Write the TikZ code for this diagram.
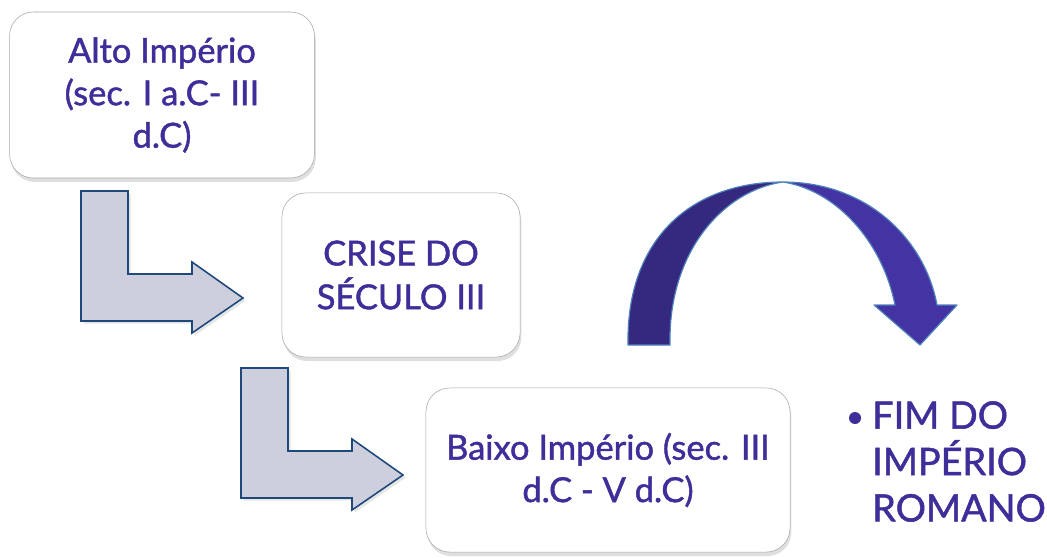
\documentclass[tikz,border=0pt]{standalone}
\usepackage{fontspec}
\setmainfont{Lato}[UprightFeatures = {FakeBold = 1.3}]
\usetikzlibrary{positioning, calc, shadows}
\definecolor{txtpurple}{RGB}{62,46,154}
\definecolor{arcdark}{RGB}{53,40,127}
\definecolor{arclight}{RGB}{68,51,162}
\definecolor{arcline}{RGB}{79,129,189}
\definecolor{bentfill}{RGB}{205,208,220}
\definecolor{bentline}{RGB}{31,73,125}
\tikzset{
stage/.style = {rectangle, rounded corners = 18pt, draw = gray!70, thin, fill = white,
	align = center, text = txtpurple, inner sep = 0pt,
	drop shadow = {opacity = 0.25, shadow xshift = 1pt, shadow yshift = -3pt}},
bent/.style = {draw = bentline, line width = 1.2pt, fill = bentfill, line join = miter,
	drop shadow = {opacity = 0.2, shadow xshift = 2pt, shadow yshift = -2pt}},
arcpart/.style = {draw = arcline, line width = 0.9pt, line join = round},
bentarrow/.pic = {
	\path [bent] (0,0) -- (47,0) -- (47,83) -- (111,83) -- (111,71) -- (162,107)
		-- (111,142) -- (111,130) -- (0,130) -- cycle;
}
}

\begin{document}
\begin{tikzpicture}[x = 0.0265cm, y = -0.0265cm]
\useasboundingbox (0,0) rectangle (1047,557);

%% The three stages
\node [stage, minimum width = 8.08cm, minimum height = 4.40cm,
	font = \fontsize{26}{32}\selectfont] (alto) at (162,95)
	{Alto Império\\(sec. I a.C- III\\d.C)};
\node [stage, minimum width = 6.31cm, minimum height = 4.35cm,
	font = \fontsize{26}{33}\selectfont] (crise) at (401,275)
	{CRISE DO\\SÉCULO III};
\node [stage, minimum width = 9.65cm, minimum height = 4.35cm,
	font = \fontsize{26}{32}\selectfont] (baixo) at (608,470)
	{Baixo Império (sec. III\\d.C - V d.C)};

%% The bent arrows
\pic at (81,191) {bentarrow};
\pic at (241,368) {bentarrow};

%% The curved arrow
\fill [arcdark] (628,345) .. controls (626,240) and (690,182) .. (783,182)
	.. controls (725,190) and (668,250) .. (670,345) -- cycle;
\draw [arcpart] (628,345) .. controls (626,240) and (690,182) .. (783,182)
	.. controls (725,190) and (668,250) .. (670,345) -- cycle;
\fill [arclight] (783,182) .. controls (868,182) and (925,240) .. (937,305)
	-- (957,305) -- (920,345) -- (874,305) -- (895,305)
	.. controls (882,240) and (835,190) .. (783,182) -- cycle;
\draw [arcpart] (783,182) .. controls (868,182) and (925,240) .. (937,305)
	-- (957,305) -- (920,345) -- (874,305) -- (895,305)
	.. controls (882,240) and (835,190) .. (783,182) -- cycle;

%% The end
\node [text = txtpurple, align = left, anchor = north west, inner sep = 0pt,
	font = \fontsize{28.5}{35}\selectfont] (fim) at (872,401)
	{FIM DO\\IMPÉRIO\\ROMANO};
\fill [txtpurple] ($(fim.north west) + (-17,17)$) circle (6);

\end{tikzpicture}
\end{document}
